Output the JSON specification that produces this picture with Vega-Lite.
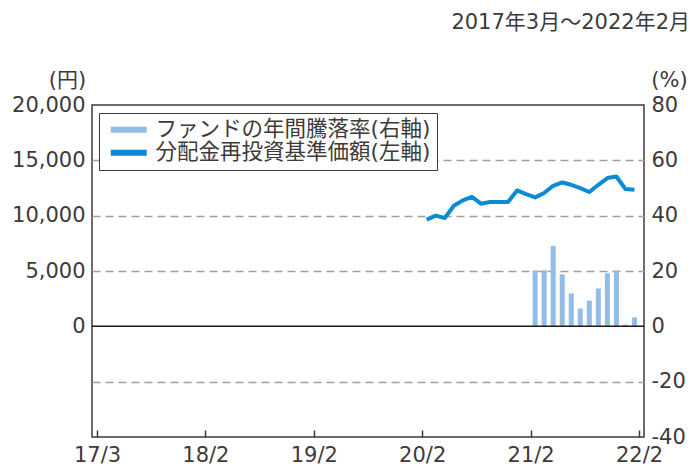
{
  "$schema": "https://vega.github.io/schema/vega-lite/v6.json",
  "width": 552,
  "height": 332,
  "autosize": {"type": "none"},
  "padding": {"left": 92, "top": 105, "right": 48, "bottom": 32},
  "background": "white",
  "config": {
    "font": "DejaVu Sans, Noto Sans CJK JP",
    "view": {"stroke": "#3e3a39", "strokeWidth": 1.5},
    "axis": {
      "labelFont": "DejaVu Sans, Noto Sans CJK JP",
      "labelFontSize": 21,
      "labelColor": "#3e3a39",
      "titleFont": "DejaVu Sans, Noto Sans CJK JP",
      "titleFontSize": 21,
      "titleFontWeight": "normal",
      "titleColor": "#3e3a39",
      "domain": false
    }
  },
  "title": {
    "text": "2017年3月～2022年2月",
    "anchor": "end",
    "frame": "group",
    "orient": "top",
    "offset": 36,
    "dx": 46,
    "fontSize": 21,
    "fontWeight": "normal",
    "color": "#3e3a39",
    "font": "DejaVu Sans, Noto Sans CJK JP"
  },
  "data": {
    "values": [
      {"t": 37, "nav": 9640},
      {"t": 38, "nav": 10000},
      {"t": 39, "nav": 9790},
      {"t": 40, "nav": 10900},
      {"t": 41, "nav": 11380},
      {"t": 42, "nav": 11690},
      {"t": 43, "nav": 11080},
      {"t": 44, "nav": 11230},
      {"t": 45, "nav": 11240},
      {"t": 46, "nav": 11230},
      {"t": 47, "nav": 12280},
      {"t": 48, "nav": 11950},
      {"t": 49, "nav": 11650, "ret": 20.2},
      {"t": 50, "nav": 12045, "ret": 20.3},
      {"t": 51, "nav": 12700, "ret": 29.1},
      {"t": 52, "nav": 13000, "ret": 18.8},
      {"t": 53, "nav": 12790, "ret": 11.9},
      {"t": 54, "nav": 12495, "ret": 6.4},
      {"t": 55, "nav": 12135, "ret": 9.3},
      {"t": 56, "nav": 12790, "ret": 13.7},
      {"t": 57, "nav": 13400, "ret": 19.2},
      {"t": 58, "nav": 13540, "ret": 20.2},
      {"t": 59, "nav": 12400, "ret": 0.6},
      {"t": 60, "nav": 12340, "ret": 3.2}
    ]
  },
  "layer": [
    {
      "mark": {"type": "bar", "size": 5},
      "encoding": {
        "x": {
          "field": "t",
          "type": "quantitative",
          "scale": {"domain": [0.5, 60.5], "nice": false, "zero": false},
          "axis": {
            "values": [0.5, 12.5, 24.5, 36.5, 48.5, 60.5],
            "labelExpr": "['17/3','18/2','19/2','20/2','21/2','22/2'][round((datum.value-0.5)/12)]",
            "grid": false,
            "ticks": true,
            "tickSize": -7,
            "tickWidth": 1.5,
            "tickColor": "#3e3a39",
            "labelPadding": 14,
            "labelFlush": false,
            "labelOverlap": false,
            "labelBound": false,
            "title": null
          }
        },
        "y": {
          "field": "ret",
          "type": "quantitative",
          "scale": {"domain": [-40, 80], "nice": false, "zero": false},
          "axis": {
            "orient": "right",
            "values": [-40, -20, 0, 20, 40, 60, 80],
            "labelExpr": "datum.value < 0 ? '-' + abs(datum.value) : '' + datum.value",
            "grid": false,
            "ticks": false,
            "labelPadding": 7,
            "title": "(%)",
            "titleAngle": 0,
            "titleX": 25,
            "titleY": -25,
            "titleAlign": "center",
            "titleBaseline": "middle"
          }
        },
        "color": {
          "datum": "ファンドの年間騰落率(右軸)",
          "type": "nominal",
          "scale": {
            "domain": ["ファンドの年間騰落率(右軸)", "分配金再投資基準価額(左軸)"],
            "range": ["#92bde6", "#0b8bd3"]
          },
          "legend": {
            "orient": "none",
            "legendX": 7,
            "legendY": 8,
            "title": null,
            "symbolType": "M-1.8,-0.3H1.8V0.3H-1.8Z",
            "symbolSize": 400,
            "symbolStrokeWidth": 0,
            "symbolOffset": 13,
            "labelFont": "DejaVu Sans, Noto Sans CJK JP",
            "labelFontSize": 21.5,
            "labelColor": "#3e3a39",
            "labelLimit": 0,
            "labelOffset": 16,
            "strokeColor": "#3e3a39",
            "fillColor": "white",
            "padding": 6,
            "rowPadding": 0
          }
        }
      }
    },
    {
      "layer": [
        {
          "data": {"values": [{}]},
          "mark": {"type": "rule", "color": "#231815", "strokeWidth": 1.5},
          "encoding": {"y": {"datum": 0, "type": "quantitative"}}
        },
        {
          "mark": {"type": "line", "strokeWidth": 4, "strokeJoin": "round"},
          "encoding": {
            "x": {"field": "t", "type": "quantitative"},
            "y": {
              "field": "nav",
              "type": "quantitative",
              "scale": {"domain": [-10000, 20000], "nice": false, "zero": false},
              "axis": {
                "orient": "left",
                "values": [-5000, 0, 5000, 10000, 15000, 20000],
                "labelExpr": "datum.value < 0 ? '' : format(datum.value, ',')",
                "grid": true,
                "gridDash": [8, 5],
                "gridColor": "#a0a0a0",
                "gridWidth": 1.5,
                "gridOpacity": {"condition": {"test": "datum.value === 0 || datum.value === 20000", "value": 0}, "value": 1},
                "ticks": false,
                "labelPadding": 7,
                "title": "(円)",
                "titleAngle": 0,
                "titleX": -25,
                "titleY": -25,
                "titleAlign": "center",
                "titleBaseline": "middle"
              }
            },
            "color": {"datum": "分配金再投資基準価額(左軸)", "type": "nominal"}
          }
        }
      ]
    }
  ],
  "resolve": {"scale": {"y": "independent"}}
}
